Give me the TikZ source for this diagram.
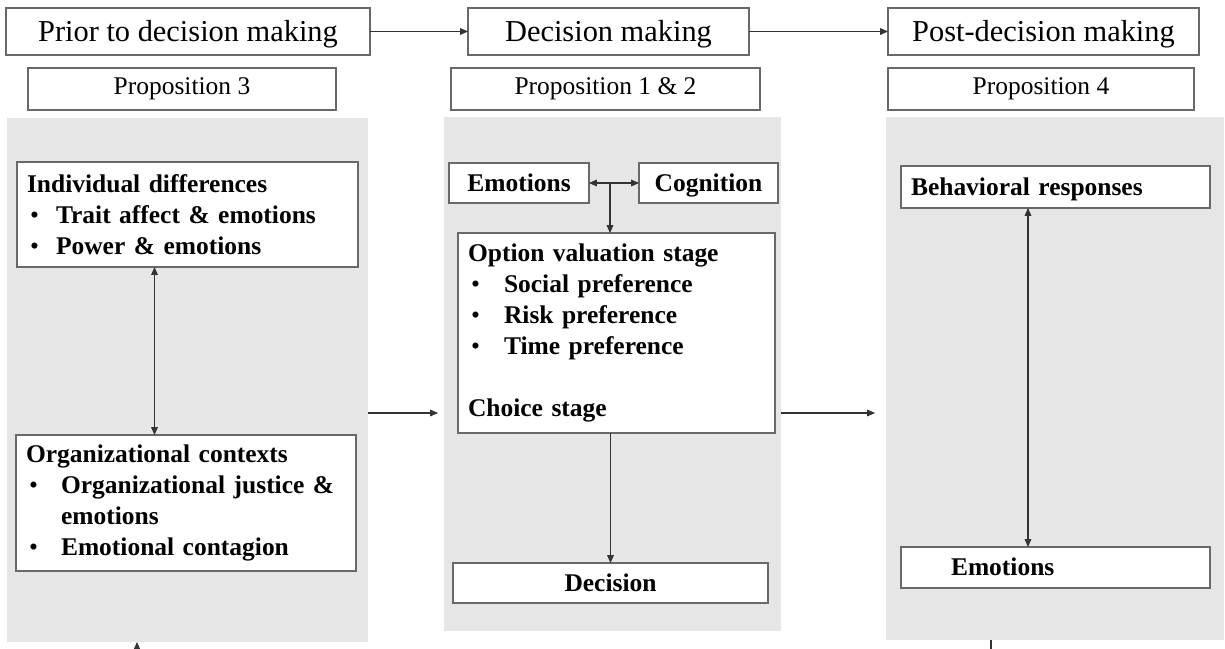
\documentclass[tikz,border=0pt]{standalone}
\usepackage{fontspec}
\setmainfont{Liberation Serif}
\usetikzlibrary{calc,arrows.meta}

\definecolor{panelgray}{RGB}{230,230,230}
\definecolor{edgegray}{RGB}{105,105,105}
\newcommand{\bul}[1]{\hspace*{0.06cm}\makebox[#1][l]{\textnormal{\textbullet}}}
\newcommand{\capstrut}{\rule[-0.2em]{0pt}{1.06em}}

\begin{document}
\begin{tikzpicture}[x=0.02cm, y=-0.02cm, >={Triangle[length=4.5pt,width=3.8pt]},
    every node/.style={inner sep=0pt, outer sep=0pt},
    hdr/.style={draw=edgegray, line width=0.7pt, minimum height=0.94cm, font=\fontsize{17.3}{20}\selectfont},
    prop/.style={draw=edgegray, line width=0.7pt, minimum height=0.84cm, font=\fontsize{14.5}{17}\selectfont},
    panel/.style={fill=panelgray},
    box/.style={draw=edgegray, fill=white, line width=0.7pt, inner xsep=0.2cm, align=left,
        font=\bfseries\fontsize{14.5}{17.6}\selectfont},
    link/.style={black!80, line width=0.6pt}]
    \useasboundingbox (0,0) rectangle (1225,649);

    % top row
    \node[hdr, minimum width=7.28cm] (prior) at (188,31.5) {\capstrut Prior to decision making};
    \node[hdr, minimum width=5.62cm] (decide) at (608.5,31.5) {\capstrut Decision making};
    \node[hdr, minimum width=6.22cm] (post) at (1043.5,31.5) {\capstrut Post-decision making};

    \node[prop, minimum width=6.16cm] (propA) at (182,89) {\strut Proposition 3};
    \node[prop, minimum width=6.18cm] (propB) at (605.5,89) {\strut Proposition 1 \& 2};
    \node[prop, minimum width=6.12cm] (propC) at (1041,89) {\strut Proposition 4};

    \draw[link, ->] (prior) -- (decide);
    \draw[link, ->] (decide) -- (post);

    % grey panels
    \node[panel, minimum width=7.22cm, minimum height=10.48cm] (lpanel) at (187.5,380) {};
    \node[panel, minimum width=6.74cm, minimum height=10.28cm] (mpanel) at (612.5,374) {};
    \node[panel, minimum width=6.76cm, minimum height=10.46cm] (rpanel) at (1055,378.5) {};

    % left panel
    \node[box, text width=6.42cm, minimum height=2.10cm] (indiv) at (187.5,214.5)
        {Individual differences\\
         \bul{0.52cm}Trait affect \& emotions\\
         \bul{0.52cm}Power \& emotions};
    \node[box, text width=6.40cm, minimum height=2.72cm] (orgctx) at (186,503)
        {Organizational contexts\\
         \bul{0.64cm}Organizational justice \&\\
         \hspace*{0.7cm}emotions\\
         \bul{0.64cm}Emotional contagion};
    \draw[link, <->] ([xshift=-0.66cm]indiv.south) -- ([xshift=-0.66cm]indiv.south |- orgctx.north);

    % middle panel
    \node[box, minimum width=2.80cm, minimum height=0.80cm] (emo) at (519,183) {\capstrut Emotions};
    \node[box, minimum width=2.78cm, minimum height=0.80cm] (cog) at (708.5,183) {\capstrut Cognition};
    \node[box, text width=5.94cm, minimum height=4.00cm] (option) at (616.5,333)
        {Option valuation stage\\
         \bul{0.66cm}Social preference\\
         \bul{0.66cm}Risk preference\\
         \bul{0.66cm}Time preference\\[17.6pt]
         Choice stage};
    \node[box, align=center, minimum width=6.30cm, minimum height=0.80cm] (decision) at (610.5,583) {\capstrut Decision};
    \coordinate (emocog) at ($(emo.east)!0.5!(cog.west)$);
    \draw[link, <->] (emo) -- (cog);
    \draw[link, ->] ([xshift=-0.08cm]emocog) -- ([xshift=-0.08cm]emocog |- option.north);
    \draw[link, ->] (decision.north |- option.south) -- (decision.north);

    % right panel
    \node[box, text width=5.78cm, minimum height=0.84cm] (behav) at (1055.5,187) {\capstrut Behavioral responses};
    \node[box, text width=5.78cm, minimum height=0.82cm] (emoR) at (1055.5,567.5) {\capstrut\hspace*{0.8cm}Emotions};
    \draw[link, <->] ([xshift=-0.55cm]behav.south) -- ([xshift=-0.55cm]behav.south |- emoR.north);

    % between panels
    \coordinate (flow) at (0,413);
    \draw[link, ->, shorten >=0.12cm] (lpanel.east |- flow) -- (mpanel.west |- flow);
    \draw[link, ->, shorten >=0.22cm] (mpanel.east |- flow) -- (rpanel.west |- flow);

    % cut-off strokes at the lower edge
    \coordinate (lowA) at (137,660);
    \coordinate (lowB) at (991,660);
    \draw[link, ->] (lowA) -- (lowA |- lpanel.south);
    \draw[link] (lowB) -- (lowB |- rpanel.south);
\end{tikzpicture}
\end{document}
